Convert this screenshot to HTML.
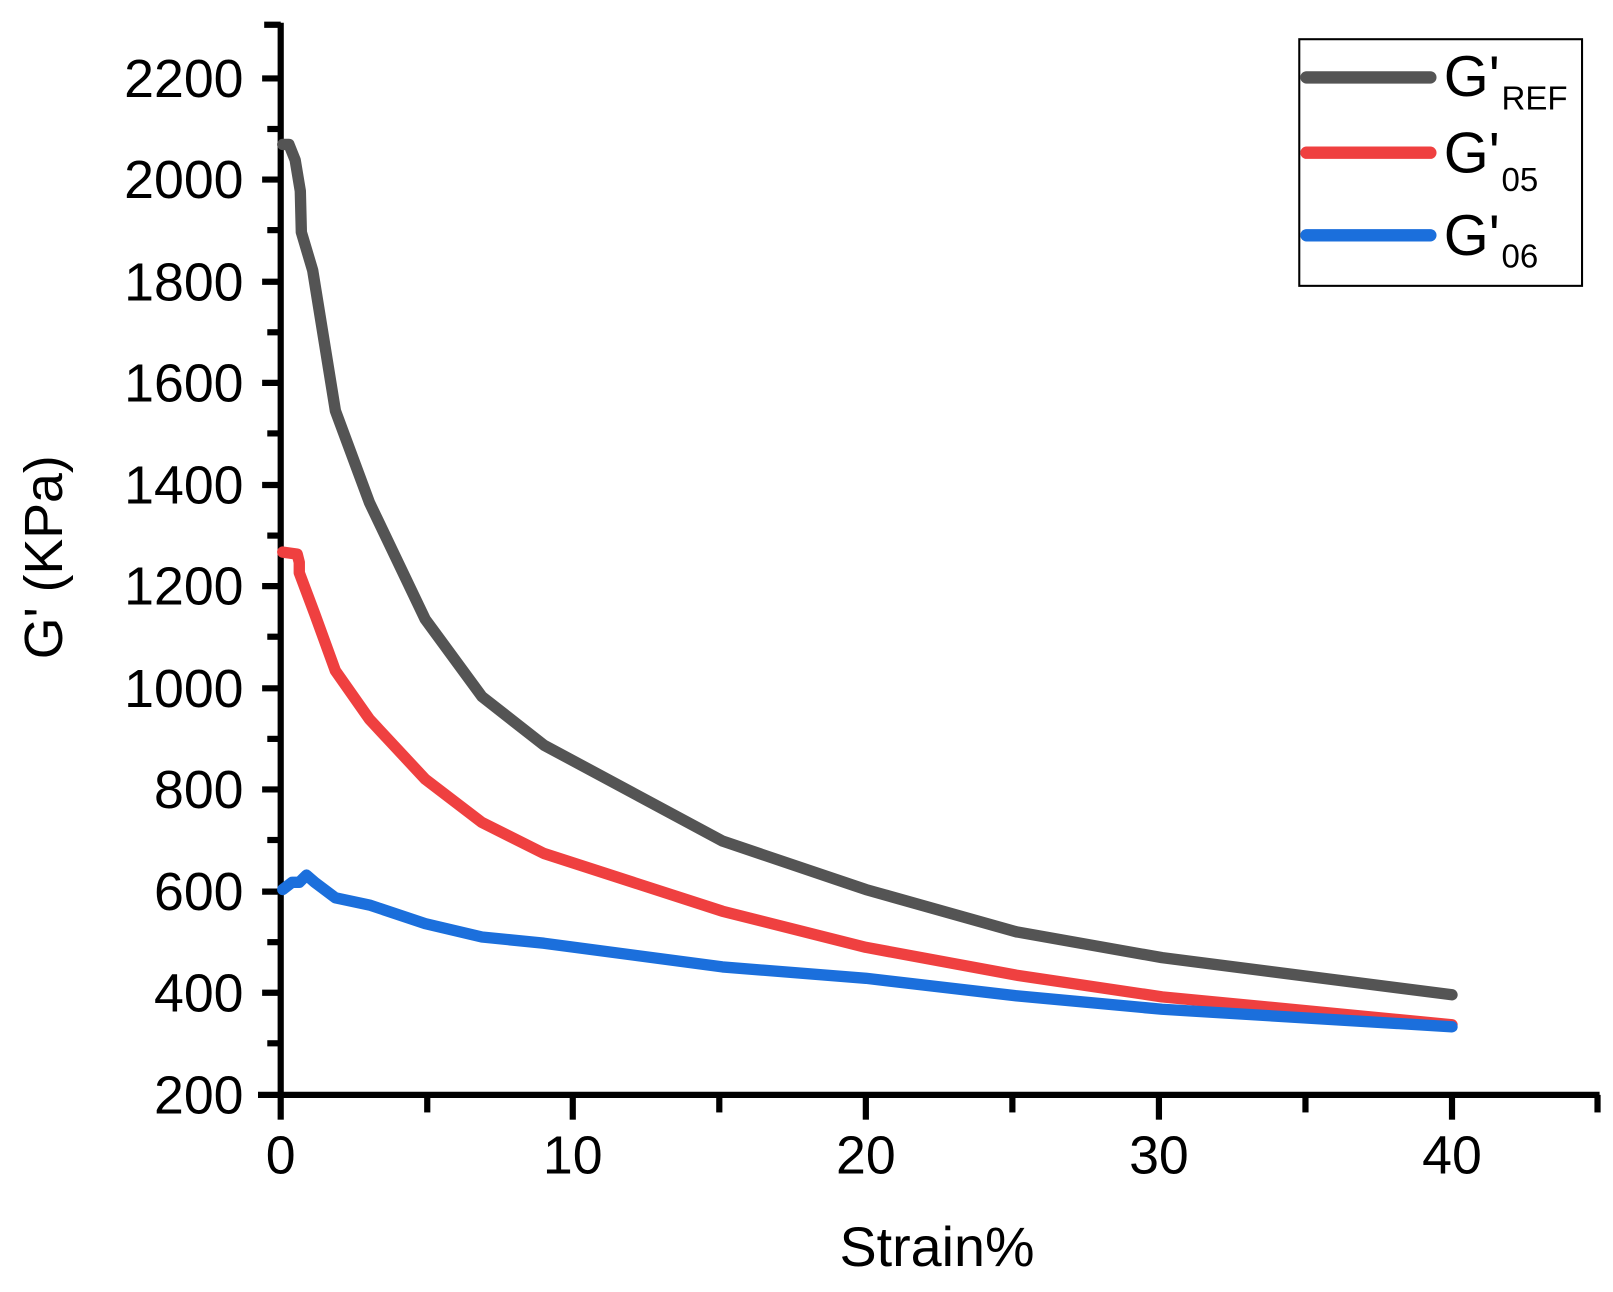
<!DOCTYPE html>
<html><head><meta charset="utf-8"><style>html,body{margin:0;padding:0;background:#fff}svg{display:block}</style></head>
<body>
<svg width="1613" height="1292" viewBox="0 0 1563 1252" preserveAspectRatio="none" xmlns="http://www.w3.org/2000/svg" font-family="Liberation Sans, Arial, sans-serif">
<rect width="1563" height="1252" fill="#fff"/>
<g stroke="#000" stroke-width="6" fill="none">
<line x1="272" y1="22" x2="272" y2="1064"/>
<line x1="250" y1="1061" x2="1550" y2="1061"/>
<g>
<line x1="256" y1="24" x2="272" y2="24"/>
<line x1="254" y1="76" x2="272" y2="76"/>
<line x1="259" y1="125" x2="272" y2="125"/>
<line x1="254" y1="174" x2="272" y2="174"/>
<line x1="259" y1="223" x2="272" y2="223"/>
<line x1="254" y1="273" x2="272" y2="273"/>
<line x1="259" y1="322" x2="272" y2="322"/>
<line x1="254" y1="371" x2="272" y2="371"/>
<line x1="259" y1="420" x2="272" y2="420"/>
<line x1="254" y1="470" x2="272" y2="470"/>
<line x1="259" y1="519" x2="272" y2="519"/>
<line x1="254" y1="568" x2="272" y2="568"/>
<line x1="259" y1="617" x2="272" y2="617"/>
<line x1="254" y1="667" x2="272" y2="667"/>
<line x1="259" y1="716" x2="272" y2="716"/>
<line x1="254" y1="765" x2="272" y2="765"/>
<line x1="259" y1="814" x2="272" y2="814"/>
<line x1="254" y1="864" x2="272" y2="864"/>
<line x1="259" y1="913" x2="272" y2="913"/>
<line x1="254" y1="962" x2="272" y2="962"/>
<line x1="259" y1="1011" x2="272" y2="1011"/>
</g>
<line x1="272" y1="1061" x2="272" y2="1085"/>
<line x1="414" y1="1061" x2="414" y2="1078"/>
<line x1="555" y1="1061" x2="555" y2="1085"/>
<line x1="697" y1="1061" x2="697" y2="1078"/>
<line x1="839" y1="1061" x2="839" y2="1085"/>
<line x1="981" y1="1061" x2="981" y2="1078"/>
<line x1="1123" y1="1061" x2="1123" y2="1085"/>
<line x1="1265" y1="1061" x2="1265" y2="1078"/>
<line x1="1407" y1="1061" x2="1407" y2="1085"/>
<line x1="1548" y1="1061" x2="1548" y2="1078"/>
</g>
<g font-size="52" text-anchor="end" fill="#000">
<text x="236" y="94">2200</text>
<text x="236" y="192">2000</text>
<text x="236" y="291">1800</text>
<text x="236" y="389">1600</text>
<text x="236" y="488">1400</text>
<text x="236" y="586">1200</text>
<text x="236" y="685">1000</text>
<text x="236" y="783">800</text>
<text x="236" y="882">600</text>
<text x="236" y="980">400</text>
<text x="236" y="1079">200</text>
</g>
<g font-size="52" text-anchor="middle" fill="#000">
<text x="272" y="1137">0</text>
<text x="555" y="1137">10</text>
<text x="839" y="1137">20</text>
<text x="1123" y="1137">30</text>
<text x="1407" y="1137">40</text>
<text x="908" y="1227" font-size="54">Strain%</text>
<text transform="translate(60,540) rotate(-90)" font-size="52">G' (KPa)</text>
</g>
<g fill="none" stroke-width="11" stroke-linejoin="round" stroke-linecap="round">
<polyline stroke="#545454" points="274,140 280,140 286,155 291,185 292,225 303,262 325,398 358,487 412,600 467,675 527,722 700,815 839,862 985,903 1126,928 1407,964"/>
<polyline stroke="#ef4040" points="274,535 288,537 290,545 290,555 305,595 325,650 358,697 412,755 467,797 527,827 700,883 839,918 985,945 1126,966 1407,993"/>
<polyline stroke="#1b6fdc" points="274,862 283,855 290,855 297,848 305,855 325,870 358,877 412,895 467,908 527,914 700,937 839,948 985,965 1126,978 1407,995"/>
</g>
<rect x="1259" y="38" width="274" height="239" fill="#fff" stroke="#000" stroke-width="2"/>
<g stroke-width="12" stroke-linecap="round">
<line x1="1266" y1="75" x2="1386" y2="75" stroke="#545454"/>
<line x1="1266" y1="148" x2="1386" y2="148" stroke="#ef4040"/>
<line x1="1266" y1="228" x2="1386" y2="228" stroke="#1b6fdc"/>
</g>
<g fill="#000">
<text x="1399" y="93" font-size="56">G'</text><text x="1455" y="106" font-size="32">REF</text>
<text x="1399" y="167" font-size="56">G'</text><text x="1455" y="185" font-size="32">05</text>
<text x="1399" y="247" font-size="56">G'</text><text x="1455" y="259" font-size="32">06</text>
</g>
</svg>
</body></html>
